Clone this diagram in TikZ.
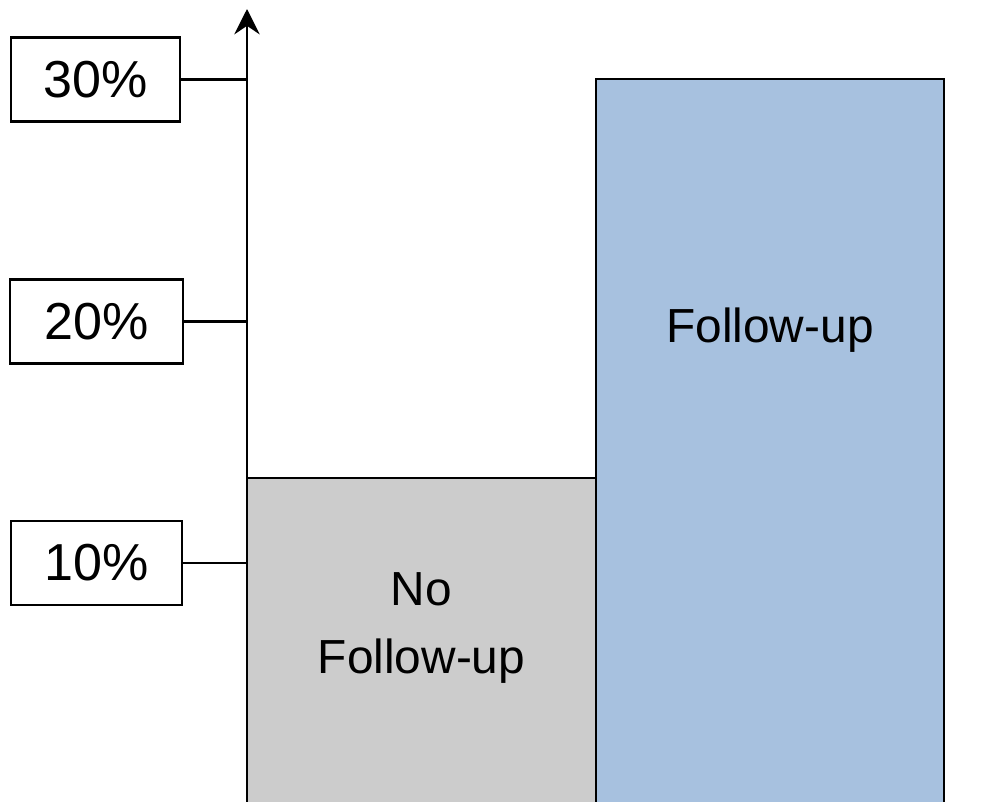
\documentclass[tikz,border=0pt]{standalone}
\usepackage{fontspec}
\setmainfont{Liberation Sans}
\usetikzlibrary{arrows.meta}
\definecolor{barblue}{RGB}{167,193,223}
\definecolor{bargray}{RGB}{204,204,204}
\tikzset{
  labelbox/.style={draw, line width=1.8pt, minimum height=2.1cm, inner sep=0pt,
    font=\fontsize{37}{44}\selectfont},
  bar/.style={draw, line width=1.8pt},
  bartext/.style={align=center, font=\fontsize{34}{48}\selectfont},
}
\begin{document}
\begin{tikzpicture}[x=0.025cm, y=-0.025cm]
      \useasboundingbox (0,0) rectangle (1000,802);
      \clip (0,0) rectangle (1000,802);
      \draw[bar, fill=bargray] (247,478) rectangle (596,840);
      \draw[bar, fill=barblue] (596,79) rectangle (944,840);
      \node[bartext] (nofollow) at (421.5,628) {No\\Follow-up};
      \node[bartext] (follow) at (770,330) {Follow-up};
      \coordinate (base) at (247,840);
      \coordinate (top) at (247,9);
      \coordinate (t30) at (247,79.5);
      \coordinate (t20) at (247,321.5);
      \coordinate (t10) at (247,563);
      \draw[line width=1.8pt, -{Stealth[length=18pt, width=18pt, inset=6pt]}] (base) -- (top);
      \draw
        (95.5,79.5) node[labelbox, minimum width=4.225cm] (l30) {30\%}
        (96.5,321.5) node[labelbox, minimum width=4.325cm] (l20) {20\%}
        (96.5,563) node[labelbox, minimum width=4.275cm] (l10) {10\%};
      \begin{scope}[line width=1.8pt]
        \draw (l30) to (t30);
        \draw (l20) to (t20);
        \draw (l10) to (t10);
      \end{scope}
    \end{tikzpicture}
\end{document}
